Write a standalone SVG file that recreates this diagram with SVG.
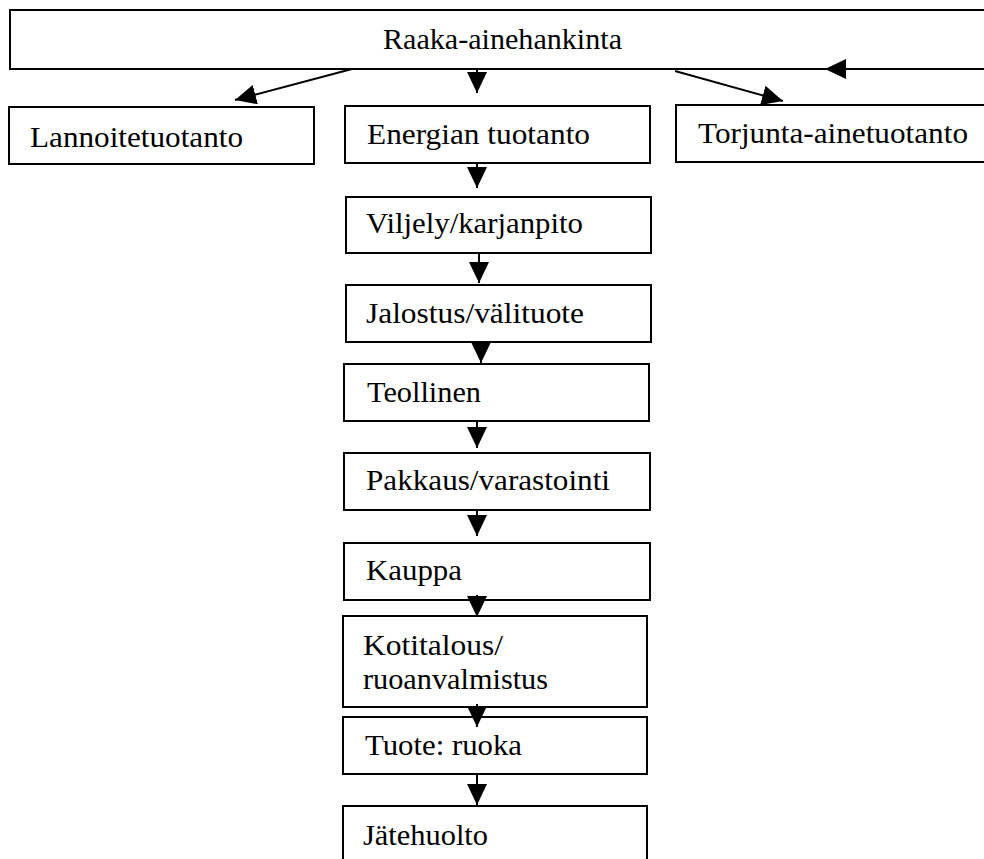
<svg xmlns="http://www.w3.org/2000/svg" width="984" height="859" viewBox="0 0 984 859">
<defs>
<marker id="ah" markerUnits="userSpaceOnUse" markerWidth="21" markerHeight="20" refX="21" refY="10" orient="auto">
<path d="M0,0 L21,10 L0,20 z" fill="#000"/>
</marker>
<style>
rect{fill:#fff;stroke:#000;stroke-width:2}
.c line{stroke:#000;stroke-width:2;marker-end:url(#ah)}
</style>
</defs>
<rect x="0" y="0" width="984" height="859" style="stroke:none"/>
<g id="raaka"><rect x="10" y="10" width="990" height="59"/><text font-family="Liberation Serif" font-size="30" x="383" y="49" textLength="239" lengthAdjust="spacingAndGlyphs">Raaka-ainehankinta</text></g>
<g id="lannoite"><rect x="9" y="107" width="305" height="57"/><text font-family="Liberation Serif" font-size="30" x="30" y="147" textLength="213" lengthAdjust="spacingAndGlyphs">Lannoitetuotanto</text></g>
<g id="energia"><rect x="345" y="106" width="305" height="57"/><text font-family="Liberation Serif" font-size="30" x="367" y="144" textLength="223" lengthAdjust="spacingAndGlyphs">Energian tuotanto</text></g>
<g id="torjunta"><rect x="676" y="105" width="320" height="57"/><text font-family="Liberation Serif" font-size="30" x="698" y="143" textLength="270" lengthAdjust="spacingAndGlyphs">Torjunta-ainetuotanto</text></g>
<g id="viljely"><rect x="346" y="197" width="305" height="56"/><text font-family="Liberation Serif" font-size="30" x="366" y="233" textLength="217" lengthAdjust="spacingAndGlyphs">Viljely/karjanpito</text></g>
<g id="jalostus"><rect x="346" y="285" width="305" height="57"/><text font-family="Liberation Serif" font-size="30" x="366" y="323" textLength="218" lengthAdjust="spacingAndGlyphs">Jalostus/välituote</text></g>
<g id="teollinen"><rect x="344" y="364" width="305" height="57"/><text font-family="Liberation Serif" font-size="30" x="367" y="402" textLength="114" lengthAdjust="spacingAndGlyphs">Teollinen</text></g>
<g id="pakkaus"><rect x="344" y="453" width="306" height="57"/><text font-family="Liberation Serif" font-size="30" x="366" y="490" textLength="244" lengthAdjust="spacingAndGlyphs">Pakkaus/varastointi</text></g>
<g id="kauppa"><rect x="344" y="543" width="306" height="57"/><text font-family="Liberation Serif" font-size="30" x="366" y="580" textLength="96" lengthAdjust="spacingAndGlyphs">Kauppa</text></g>
<g id="kotitalous"><rect x="343" y="616" width="304" height="91"/><text font-family="Liberation Serif" font-size="30" x="363" y="655" textLength="140" lengthAdjust="spacingAndGlyphs">Kotitalous/</text><text font-family="Liberation Serif" font-size="30" x="363" y="689" textLength="185" lengthAdjust="spacingAndGlyphs">ruoanvalmistus</text></g>
<g id="tuote"><rect x="343" y="717" width="304" height="57"/><text font-family="Liberation Serif" font-size="30" x="365" y="755" textLength="157" lengthAdjust="spacingAndGlyphs">Tuote: ruoka</text></g>
<g id="jatehuolto"><rect x="343" y="806" width="304" height="70"/><text font-family="Liberation Serif" font-size="30" x="363" y="845" textLength="125" lengthAdjust="spacingAndGlyphs">Jätehuolto</text></g>
<g id="connectors" class="c">
<line x1="352" y1="69" x2="235" y2="100"/>
<line x1="477" y1="69" x2="477" y2="93"/>
<line x1="675" y1="71" x2="783" y2="101"/>
<line x1="984" y1="69" x2="825" y2="69"/>
<line x1="477" y1="163" x2="477" y2="188"/>
<line x1="479" y1="253" x2="479" y2="283"/>
<line x1="481" y1="342" x2="481" y2="363"/>
<line x1="477" y1="421" x2="477" y2="448"/>
<line x1="477" y1="509" x2="477" y2="536"/>
<line x1="477" y1="595" x2="477" y2="617"/>
<line x1="477" y1="704" x2="477" y2="727"/>
<line x1="477" y1="773" x2="477" y2="805"/>
</g>
</svg>
